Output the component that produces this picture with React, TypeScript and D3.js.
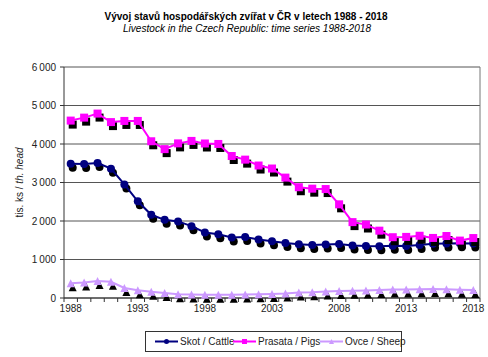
import React from "react";
import * as d3 from "d3";

const years = d3.range(1988, 2019).map(String);
const cattle = [3485, 3480, 3506, 3360, 2949, 2512, 2161, 2030, 1989, 1866, 1701, 1657, 1574, 1582, 1520, 1474, 1428, 1397, 1374, 1391, 1402, 1364, 1349, 1344, 1354, 1353, 1374, 1407, 1416, 1421, 1418];
const pigs = [4608, 4685, 4790, 4569, 4599, 4599, 4071, 3867, 4016, 4080, 4013, 4001, 3688, 3594, 3441, 3363, 3127, 2877, 2840, 2830, 2433, 1971, 1909, 1749, 1579, 1587, 1617, 1560, 1610, 1491, 1557];
const sheep = [380, 400, 440, 420, 260, 200, 160, 130, 100, 90, 85, 86, 84, 90, 96, 103, 116, 140, 148, 169, 183, 190, 197, 209, 221, 221, 226, 232, 227, 215, 210];
const yTicks = [0, 1000, 2000, 3000, 4000, 5000, 6000];
const xLabels = ["1988", "1993", "1998", "2003", "2008", "2013", "2018"];

const W = 488, H = 357;
const L = 64, R = 480, T = 67, B = 298;

const font = "Arial, 'Liberation Sans', sans-serif";

type Shape = "circle" | "square" | "triangle";

function Marker({ shape, x, y, fill, size }: { shape: Shape; x: number; y: number; fill: string; size: number }) {
  if (shape === "circle") return <circle cx={x} cy={y} r={size / 2} fill={fill} />;
  if (shape === "square") return <rect x={x - size / 2} y={y - size / 2} width={size} height={size} fill={fill} />;
  const h = size;
  return <path d={`M${x},${y - h / 2} L${x + h / 2},${y + h / 2} L${x - h / 2},${y + h / 2} Z`} fill={fill} />;
}

const series = [
  { name: "Skot / Cattle", values: cattle, color: "#000080", shape: "circle" as Shape, size: 8 },
  { name: "Prasata / Pigs", values: pigs, color: "#FF00FF", shape: "square" as Shape, size: 8 },
  { name: "Ovce / Sheep", values: sheep, color: "#CC99FF", shape: "triangle" as Shape, size: 8 },
];

export default function App() {
  const x = d3.scaleBand<string>().domain(years).range([L, R]);
  const y = d3.scaleLinear().domain([0, 6000]).range([B, T]);
  const cx = (yr: string) => (x(yr) as number) + x.bandwidth() / 2;
  const line = d3.line<number>().x((_, i) => cx(years[i])).y((v) => y(v));

  const legendItems = [
    { lx: 155, tx: 180 },
    { lx: 233, tx: 258 },
    { lx: 320, tx: 345 },
  ];

  return (
    <svg width={W} height={H} style={{ position: "absolute", left: 0, top: 0, background: "#fff" }} fontFamily={font}>
      <text x={246} y={20} textAnchor="middle" fontSize={11} fontWeight="bold" textLength={283} lengthAdjust="spacingAndGlyphs">
        Vývoj stavů hospodářských zvířat v ČR v letech 1988 - 2018
      </text>
      <text x={247} y={32} textAnchor="middle" fontSize={10.5} fontStyle="italic" textLength={248} lengthAdjust="spacingAndGlyphs">
        Livestock in the Czech Republic: time series 1988-2018
      </text>

      {/* gridlines */}
      {yTicks.map((t) => (
        <line key={t} x1={L} x2={R} y1={y(t)} y2={y(t)} stroke="#555" strokeWidth={1} />
      ))}
      <line x1={R} x2={R} y1={T} y2={B} stroke="#777" strokeWidth={1} />
      <line x1={L} x2={L} y1={T} y2={B} stroke="#333" strokeWidth={1} />
      <line x1={L} x2={R} y1={B} y2={B} stroke="#333" strokeWidth={1} />
      {yTicks.map((t) => (
        <g key={"yt" + t}>
          <line x1={L - 4} x2={L} y1={y(t)} y2={y(t)} stroke="#333" />
          <text x={56} y={y(t) + 3.5} textAnchor="end" fontSize={10} fill="#222">
            {d3.format(",")(t).replace(",", "\u2009")}
          </text>
        </g>
      ))}
      {years.map((yr) => (
        <line key={"xt" + yr} x1={x(yr) as number} x2={x(yr) as number} y1={B} y2={B + 4} stroke="#333" />
      ))}
      <line x1={R} x2={R} y1={B} y2={B + 4} stroke="#333" />
      {xLabels.map((yr) => (
        <text key={"xl" + yr} x={cx(yr)} y={312} textAnchor="middle" fontSize={10} fill="#222">
          {yr}
        </text>
      ))}

      <text transform={`translate(23,${(T + B) / 2}) rotate(-90)`} textAnchor="middle" fontSize={10} fill="#222">
        tis. ks / <tspan fontStyle="italic">th. head</tspan>
      </text>

      {/* series */}
      {series.map((s) => (
        <g key={s.name}>
          {s.values.map((v, i) => (
            <Marker key={"sh" + i} shape={s.shape} x={cx(years[i]) + 2} y={y(v) + 4} fill="#000" size={s.size} />
          ))}
          <path d={line(s.values) as string} fill="none" stroke={s.color} strokeWidth={2} />
          {s.values.map((v, i) => (
            <Marker key={"m" + i} shape={s.shape} x={cx(years[i])} y={y(v)} fill={s.color} size={s.size} />
          ))}
        </g>
      ))}

      {/* legend */}
      <rect x={145.5} y={331.5} width={256} height={20} fill="#fff" stroke="#333" strokeWidth={1} />
      {series.map((s, i) => (
        <g key={"lg" + i}>
          <line x1={legendItems[i].lx} x2={legendItems[i].lx + 23} y1={341.5} y2={341.5} stroke={s.color} strokeWidth={2} />
          <Marker shape={s.shape} x={legendItems[i].lx + 11.5} y={341.5} fill={s.color} size={5} />
          <text x={legendItems[i].tx} y={345} fontSize={10} fill="#222">
            {s.name}
          </text>
        </g>
      ))}
    </svg>
  );
}
